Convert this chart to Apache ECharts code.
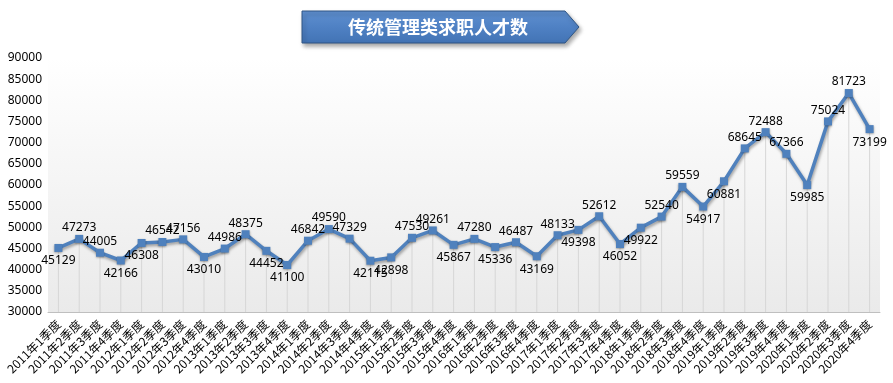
<!DOCTYPE html>
<html>
<head>
<meta charset="utf-8">
<script src="https://cdn.jsdelivr.net/npm/echarts@6/dist/echarts.min.js"></script>
<style>
html,body{margin:0;padding:0;background:#fff;}
#c{width:893px;height:383px;}
</style>
</head>
<body>
<div id="c"></div>
<script>
const titleText = '传统管理类求职人才数';
const years = ['2011','2012','2013','2014','2015','2016','2017','2018','2019','2020'];
const quarters = ['1','2','3','4'];
const categories = [];
years.forEach(y => quarters.forEach(q => categories.push(y + '年' + q + '季度')));
const values = [
  45129, 47273, 44005, 42166,
  46308, 46542, 47156, 43010,
  44986, 48375, 44452, 41100,
  46842, 49590, 47329, 42115,
  42898, 47530, 49261, 45867,
  47280, 45336, 46487, 43169,
  48133, 49398, 52612, 46052,
  49922, 52540, 59559, 54917,
  60881, 68645, 72488, 67366,
  59985, 75024, 81723, 73199
];
const yTicks = [30000, 35000, 40000, 45000, 50000, 55000, 60000, 65000, 70000, 75000, 80000, 85000, 90000];
// label placement (t = above, b = below)
const labelSide = 'bttbbttbtt' + 'bbtttbbttb' + 'tbtbtbtbbt' + 'tbbtttbttb';

const chart = echarts.init(document.getElementById('c'), null, {renderer: 'canvas'});
const lineData = values.map((v, i) => ({
  value: v,
  label: {position: labelSide[i] === 't' ? 'top' : 'bottom', distance: labelSide[i] === 't' ? 1 : 3}
}));
chart.setOption({
  animation: false,
  grid: {
    left: 48, right: 13, top: 58, bottom: 71,
    show: true,
    borderWidth: 0,
    backgroundColor: new echarts.graphic.LinearGradient(0, 0, 0, 1, [
      {offset: 0, color: '#ffffff'},
      {offset: 1, color: '#eaeaea'}
    ])
  },
  xAxis: {
    type: 'category',
    data: categories,
    boundaryGap: true,
    axisLine: {show: true, lineStyle: {color: '#bfbfbf', width: 1}},
    axisTick: {show: false},
    splitLine: {show: false},
    axisLabel: {
      interval: 0, rotate: 45, margin: 10,
      color: '#000', fontSize: 12,
      fontFamily: '"Noto Sans CJK SC", sans-serif'
    }
  },
  yAxis: {
    type: 'value',
    min: yTicks[0], max: yTicks[yTicks.length - 1], interval: yTicks[1] - yTicks[0],
    axisLine: {show: false},
    axisTick: {show: false},
    splitLine: {show: false},
    axisLabel: {color: '#000', fontSize: 12, margin: 6, fontFamily: '"Noto Sans", sans-serif', formatter: v => String(v)}
  },
  graphic: [
    {
      type: 'polygon',
      shape: {points: [[302, 11], [565, 11], [579, 27], [565, 43], [302, 43]]},
      style: {
        fill: new echarts.graphic.LinearGradient(0, 0, 0, 1, [
          {offset: 0, color: '#5f90d0'},
          {offset: 0.5, color: '#4f81c4'},
          {offset: 1, color: '#4273b4'}
        ]),
        stroke: '#2f5584', lineWidth: 1,
        shadowColor: 'rgba(0,0,0,0.35)', shadowBlur: 4, shadowOffsetX: 2, shadowOffsetY: 3
      },
      z: 10
    },
    {
      type: 'text',
      x: 438, y: 27,
      style: {
        text: titleText, fill: '#ffffff',
        font: 'bold 18px "Noto Sans CJK SC", sans-serif',
        align: 'center', verticalAlign: 'middle'
      },
      z: 11
    }
  ],
  series: [
    {
      type: 'bar',
      data: values,
      barWidth: 1,
      silent: true,
      itemStyle: {color: '#d6d6d6'},
      z: 1
    },
    {
      type: 'line',
      data: lineData,
      symbol: 'rect',
      symbolSize: 8,
      lineStyle: {color: '#4f81bd', width: 3.5, shadowColor: 'rgba(0,0,0,0.35)', shadowBlur: 3, shadowOffsetX: 1, shadowOffsetY: 2},
      itemStyle: {color: '#4f81bd', shadowColor: 'rgba(0,0,0,0.3)', shadowBlur: 2, shadowOffsetY: 1},
      label: {show: true, color: '#000', fontSize: 12, fontFamily: '"Noto Sans", sans-serif'},
      z: 3
    }
  ]
});
</script>
</body>
</html>
